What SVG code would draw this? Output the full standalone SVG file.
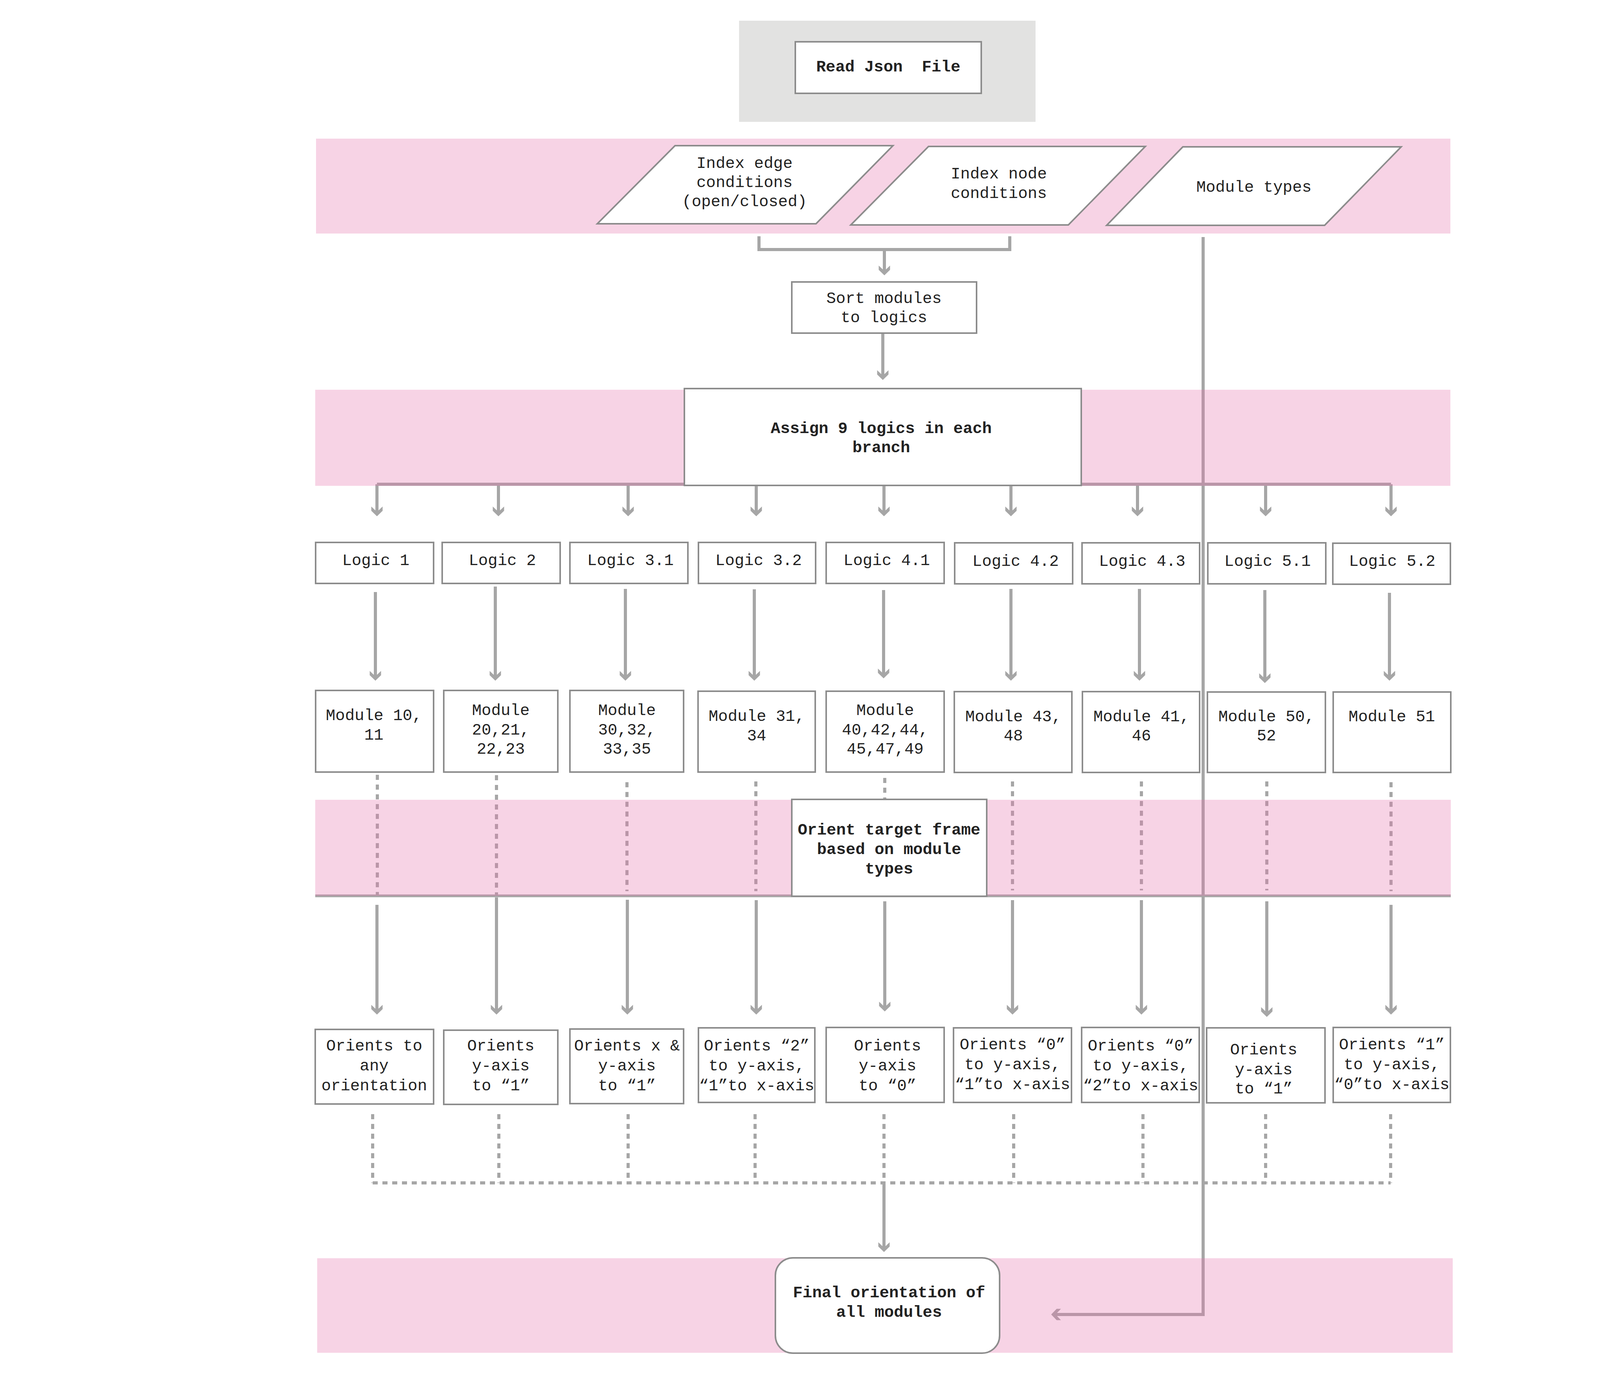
<svg xmlns="http://www.w3.org/2000/svg" width="4407" height="3544" viewBox="0 0 4407 3544">
<defs>
<style>
.band{fill:#e676ae;fill-opacity:0.32}
.node{fill:#fff;stroke:#8c8c8c;stroke-width:4}
.t{font-family:"Liberation Mono","DejaVu Sans Mono",monospace;font-size:41px;fill:#222;text-anchor:middle}
.b{font-weight:bold}
.c{fill:none;stroke:#a6a6a6;stroke-width:8}
.a{marker-end:url(#ah)}
.d{stroke-dasharray:13 12}
</style>
<marker id="ah" markerUnits="userSpaceOnUse" orient="auto" overflow="visible" refX="0" refY="0" markerWidth="1" markerHeight="1">
<path d="M10,0 L-4,-14.5 L-15,-14.5 L-5,-4 L-5,4 L-15,14.5 L-4,14.5 Z" fill="#a6a6a6"/>
</marker>
</defs>
<rect width="4407" height="3544" fill="#fff"/>
<rect id="header-panel" x="1892" y="53" width="759" height="259" fill="#e2e2e1"/>

<g id="connectors">
<path class="c" d="M1943,605 V639 H2585 V605"/>
<path class="c a" d="M2264,639 V695"/>
<path class="c a" d="M2260,853 V963"/>
<path class="c" d="M965,1240 H3561"/>
<path class="c a" d="M965,1240 V1312"/>
<path class="c a" d="M1276,1240 V1312"/>
<path class="c a" d="M1608,1240 V1312"/>
<path class="c a" d="M1936,1240 V1312"/>
<path class="c a" d="M2263,1240 V1312"/>
<path class="c a" d="M2588,1240 V1312"/>
<path class="c a" d="M2912,1240 V1312"/>
<path class="c a" d="M3240,1240 V1312"/>
<path class="c a" d="M3561,1240 V1312"/>
<path class="c a" d="M961,1516 V1733"/>
<path class="c a" d="M1268,1502 V1733"/>
<path class="c a" d="M1601,1508 V1733"/>
<path class="c a" d="M1931,1509 V1733"/>
<path class="c a" d="M2262,1511 V1727"/>
<path class="c a" d="M2588,1508 V1733"/>
<path class="c a" d="M2917,1508 V1733"/>
<path class="c a" d="M3238,1511 V1739"/>
<path class="c a" d="M3557,1518 V1733"/>
<path class="c d" d="M966,1984 V2292"/>
<path class="c d" d="M1271,1985 V2292"/>
<path class="c d" d="M1605,2003 V2282"/>
<path class="c d" d="M1935,2001 V2282"/>
<path class="c d" d="M2265,1992 V2047"/>
<path class="c d" d="M2592,2001 V2280"/>
<path class="c d" d="M2922,2001 V2280"/>
<path class="c d" d="M3243,2001 V2280"/>
<path class="c d" d="M3561,2003 V2282"/>
<path fill="none" stroke="#a6a6a6" stroke-width="7" d="M807,2294 H3714"/>
<path class="c a" d="M965,2317 V2588"/>
<path class="c a" d="M1271,2298 V2588"/>
<path class="c a" d="M1606,2304 V2588"/>
<path class="c a" d="M1936,2305 V2588"/>
<path class="c a" d="M2265,2308 V2580"/>
<path class="c a" d="M2592,2305 V2588"/>
<path class="c a" d="M2922,2305 V2588"/>
<path class="c a" d="M3243,2308 V2594"/>
<path class="c a" d="M3561,2317 V2588"/>
<path class="c d" d="M954,2853 V3029"/>
<path class="c d" d="M1277,2853 V3029"/>
<path class="c d" d="M1608,2853 V3029"/>
<path class="c d" d="M1933,2853 V3029"/>
<path class="c d" d="M2263,2853 V3029"/>
<path class="c d" d="M2595,2853 V3029"/>
<path class="c d" d="M2926,2853 V3029"/>
<path class="c d" d="M3240,2853 V3029"/>
<path class="c d" d="M3560,2853 V3029"/>
<path class="c d" d="M954,3029 H3560"/>
<path class="c a" d="M2263,3029 V3196"/>
<path class="c a" d="M3080,607 V3366 H2701"/>
</g>

<g id="bands">
<rect class="band" x="809" y="355" width="2904" height="243"/>
<rect class="band" x="807" y="998" width="2906" height="246"/>
<rect class="band" x="807" y="2048" width="2907" height="246"/>
<rect class="band" x="812" y="3222" width="2907" height="242"/>
</g>

<g id="read-json">
<rect class="node" x="2036" y="107" width="476" height="132"/>
<text class="t b" x="2274" y="183" xml:space="preserve">Read Json  File</text>
</g>

<g id="index-edge">
<polygon class="node" points="1728,373 2286,373 2089,573 1529,573"/>
<text class="t"><tspan x="1906" y="430">Index edge</tspan><tspan x="1906" y="479">conditions</tspan><tspan x="1906" y="528">(open/closed)</tspan></text>
</g>
<g id="index-node">
<polygon class="node" points="2377,375 2932,375 2735,576 2178,576"/>
<text class="t"><tspan x="2557" y="457">Index node</tspan><tspan x="2557" y="507">conditions</tspan></text>
</g>
<g id="module-types">
<polygon class="node" points="3028,376 3587,376 3391,577 2833,577"/>
<text class="t" x="3210" y="491">Module types</text>
</g>

<g id="sort">
<rect class="node" x="2027" y="722" width="473" height="131"/>
<text class="t"><tspan x="2263" y="776">Sort modules</tspan><tspan x="2263" y="825">to logics</tspan></text>
</g>

<g id="assign">
<rect class="node" x="1752" y="995" width="1016" height="248"/>
<text class="t b"><tspan x="2256" y="1109">Assign 9 logics in each</tspan><tspan x="2256" y="1158">branch</tspan></text>
</g>

<g id="logic-1"><rect class="node" x="808" y="1389" width="302" height="105"/><text class="t" x="962" y="1447">Logic 1</text></g>
<g id="logic-2"><rect class="node" x="1132" y="1389" width="302" height="105"/><text class="t" x="1286" y="1447">Logic 2</text></g>
<g id="logic-3-1"><rect class="node" x="1459" y="1389" width="302" height="105"/><text class="t" x="1614" y="1447">Logic 3.1</text></g>
<g id="logic-3-2"><rect class="node" x="1788" y="1389" width="300" height="105"/><text class="t" x="1942" y="1447">Logic 3.2</text></g>
<g id="logic-4-1"><rect class="node" x="2115" y="1389" width="302" height="105"/><text class="t" x="2270" y="1447">Logic 4.1</text></g>
<g id="logic-4-2"><rect class="node" x="2444" y="1390" width="302" height="105"/><text class="t" x="2600" y="1449">Logic 4.2</text></g>
<g id="logic-4-3"><rect class="node" x="2770" y="1390" width="301" height="105"/><text class="t" x="2924" y="1449">Logic 4.3</text></g>
<g id="logic-5-1"><rect class="node" x="3092" y="1390" width="302" height="105"/><text class="t" x="3245" y="1449">Logic 5.1</text></g>
<g id="logic-5-2"><rect class="node" x="3412" y="1391" width="301" height="105"/><text class="t" x="3564" y="1449">Logic 5.2</text></g>

<g id="module-10"><rect class="node" x="808" y="1768" width="302" height="209"/><text class="t"><tspan x="957" y="1844">Module 10,</tspan><tspan x="957" y="1894">11</tspan></text></g>
<g id="module-20"><rect class="node" x="1136" y="1768" width="292" height="209"/><text class="t"><tspan x="1282" y="1831">Module</tspan><tspan x="1282" y="1881">20,21,</tspan><tspan x="1282" y="1930">22,23</tspan></text></g>
<g id="module-30"><rect class="node" x="1459" y="1768" width="291" height="209"/><text class="t"><tspan x="1605" y="1831">Module</tspan><tspan x="1605" y="1881">30,32,</tspan><tspan x="1605" y="1930">33,35</tspan></text></g>
<g id="module-31"><rect class="node" x="1787" y="1770" width="300" height="207"/><text class="t"><tspan x="1937" y="1846">Module 31,</tspan><tspan x="1937" y="1896">34</tspan></text></g>
<g id="module-40"><rect class="node" x="2115" y="1770" width="302" height="207"/><text class="t"><tspan x="2266" y="1831">Module</tspan><tspan x="2266" y="1881">40,42,44,</tspan><tspan x="2266" y="1930">45,47,49</tspan></text></g>
<g id="module-43"><rect class="node" x="2443" y="1771" width="301" height="207"/><text class="t"><tspan x="2594" y="1847">Module 43,</tspan><tspan x="2594" y="1896">48</tspan></text></g>
<g id="module-41"><rect class="node" x="2771" y="1771" width="300" height="207"/><text class="t"><tspan x="2922" y="1847">Module 41,</tspan><tspan x="2922" y="1896">46</tspan></text></g>
<g id="module-50"><rect class="node" x="3091" y="1772" width="302" height="206"/><text class="t"><tspan x="3242" y="1847">Module 50,</tspan><tspan x="3242" y="1896">52</tspan></text></g>
<g id="module-51"><rect class="node" x="3413" y="1772" width="301" height="206"/><text class="t" x="3563" y="1847">Module 51</text></g>

<g id="orient-target">
<rect class="node" x="2027" y="2047" width="499" height="248"/>
<text class="t b"><tspan x="2276" y="2137">Orient target frame</tspan><tspan x="2276" y="2187">based on module</tspan><tspan x="2276" y="2237">types</tspan></text>
</g>

<g id="orient-1"><rect class="node" x="807" y="2636" width="303" height="191"/><text class="t"><tspan x="958" y="2690">Orients to</tspan><tspan x="958" y="2741">any</tspan><tspan x="958" y="2792">orientation</tspan></text></g>
<g id="orient-2"><rect class="node" x="1136" y="2638" width="292" height="190"/><text class="t"><tspan x="1282" y="2690">Orients</tspan><tspan x="1282" y="2741">y-axis</tspan><tspan x="1282" y="2792">to “1”</tspan></text></g>
<g id="orient-3"><rect class="node" x="1459" y="2635" width="291" height="191"/><text class="t"><tspan x="1605" y="2690">Orients x &amp;</tspan><tspan x="1605" y="2741">y-axis</tspan><tspan x="1605" y="2792">to “1”</tspan></text></g>
<g id="orient-4"><rect class="node" x="1788" y="2632" width="298" height="191"/><text class="t"><tspan x="1937" y="2690">Orients “2”</tspan><tspan x="1937" y="2741">to y-axis,</tspan><tspan x="1937" y="2792">“1”to x-axis</tspan></text></g>
<g id="orient-5"><rect class="node" x="2115" y="2631" width="302" height="192"/><text class="t"><tspan x="2272" y="2690">Orients</tspan><tspan x="2272" y="2741">y-axis</tspan><tspan x="2272" y="2792">to “0”</tspan></text></g>
<g id="orient-6"><rect class="node" x="2441" y="2632" width="302" height="191"/><text class="t"><tspan x="2592" y="2687">Orients “0”</tspan><tspan x="2592" y="2738">to y-axis,</tspan><tspan x="2592" y="2789">“1”to x-axis</tspan></text></g>
<g id="orient-7"><rect class="node" x="2769" y="2631" width="301" height="192"/><text class="t"><tspan x="2920" y="2690">Orients “0”</tspan><tspan x="2920" y="2741">to y-axis,</tspan><tspan x="2920" y="2792">“2”to x-axis</tspan></text></g>
<g id="orient-8"><rect class="node" x="3089" y="2632" width="303" height="192"/><text class="t"><tspan x="3235" y="2700">Orients</tspan><tspan x="3235" y="2751">y-axis</tspan><tspan x="3235" y="2800">to “1”</tspan></text></g>
<g id="orient-9"><rect class="node" x="3413" y="2631" width="300" height="192"/><text class="t"><tspan x="3563" y="2687">Orients “1”</tspan><tspan x="3563" y="2738">to y-axis,</tspan><tspan x="3563" y="2789">“0”to x-axis</tspan></text></g>

<g id="final">
<rect class="node" x="1985" y="3221" width="574" height="244" rx="45" ry="45"/>
<text class="t b"><tspan x="2276" y="3322">Final orientation of</tspan><tspan x="2276" y="3372">all modules</tspan></text>
</g>
</svg>
